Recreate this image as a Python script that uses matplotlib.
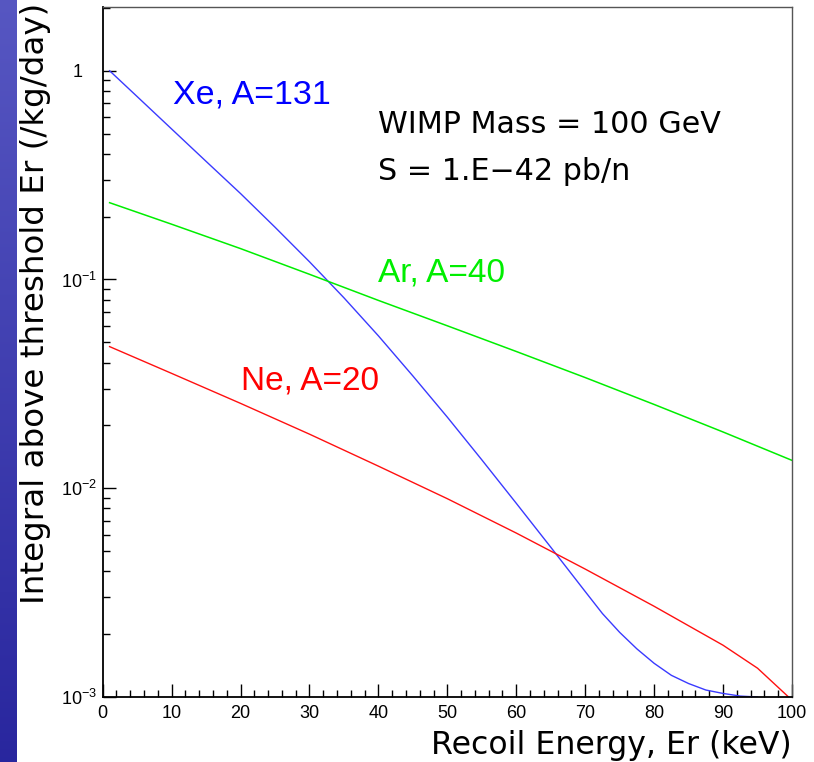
import numpy as np
import matplotlib.pyplot as plt
from matplotlib.ticker import MultipleLocator, LogLocator, NullFormatter
from matplotlib.transforms import ScaledTranslation

plt.rcParams['mathtext.fontset'] = 'custom'
plt.rcParams['mathtext.rm'] = 'Liberation Sans'
plt.rcParams['mathtext.it'] = 'Liberation Sans:italic'
plt.rcParams['mathtext.bf'] = 'Liberation Sans:bold'

# integrated WIMP rate above threshold, per target nucleus
energy_xe = [1, 5, 10, 15, 20, 25, 30, 35, 40, 45, 50, 55, 60, 65, 70,
             72.5, 75, 77.5, 80, 82.5, 85, 87.5, 90, 92.5, 95]
rate_xe = [1.0, 0.752, 0.526, 0.368, 0.258, 0.178, 0.1216, 0.0817, 0.0537,
           0.0345, 0.0219, 0.01368, 0.00847, 0.00522, 0.0032, 0.00251,
           0.00204, 0.0017, 0.00145, 0.00127, 0.00116, 0.00108, 0.00104,
           0.00101, 0.00100]

energy_ar = [1, 10, 20, 30, 40, 50, 60, 70, 80, 90, 100]
rate_ar = [0.2333, 0.184, 0.1406, 0.1059, 0.0794, 0.0600, 0.0452, 0.0339,
           0.0252, 0.0186, 0.0136]

energy_ne = [1, 10, 20, 30, 40, 50, 60, 70, 80, 90, 95, 99.5]
rate_ne = [0.0477, 0.0355, 0.0255, 0.01816, 0.01276, 0.00891, 0.0061,
           0.0041, 0.00272, 0.00177, 0.001374, 0.0010]

y_ticks = [1e-3, 1e-2, 1e-1, 1]
y_labels = [r'$10^{-3}$', r'$10^{-2}$', r'$10^{-1}$', '1']


def plotRates():

    fig = plt.figure(figsize=(8.14, 7.62), dpi=100)

    # slide background strip on the left edge
    strip = fig.add_axes([0, 0, 17 / 814, 1])
    grad = np.linspace(0, 1, 256).reshape(-1, 1)
    top = np.array([0.34, 0.34, 0.76])
    bot = np.array([0.16, 0.15, 0.62])
    img = top[None, None, :] * (1 - grad[:, :, None]) + bot[None, None, :] * grad[:, :, None]
    strip.imshow(img, aspect='auto', extent=[0, 1, 0, 1])
    strip.axis('off')

    ax = fig.add_axes([102.7 / 814, 65 / 762, 689.3 / 814, 690 / 762])
    ax.plot(energy_xe, rate_xe, color='#3a3aff', lw=1.0)
    ax.plot(energy_ar, rate_ar, color='#00ee00', lw=1.1)
    ax.plot(energy_ne, rate_ne, color='#ff1010', lw=1.0)

    ax.set_yscale('log')
    ax.set_xlim(0, 100)
    ax.set_ylim(1e-3, 2.02)

    ax.xaxis.set_major_locator(MultipleLocator(10))
    ax.xaxis.set_minor_locator(MultipleLocator(2))
    ax.set_yticks(y_ticks, y_labels)
    ax.yaxis.set_minor_locator(LogLocator(base=10, subs=np.arange(2, 10)))
    ax.yaxis.set_minor_formatter(NullFormatter())

    ax.tick_params(which='both', direction='in', top=False, right=False,
                   width=1.0, color='black', labelsize=13)
    ax.tick_params(which='major', length=9.5)
    ax.tick_params(which='minor', length=5)
    ax.tick_params(axis='x', pad=6)
    ax.tick_params(axis='y', pad=4)
    for lab in ax.get_xticklabels() + ax.get_yticklabels():
        lab.set_family('Liberation Sans')
    # the "1" label lines up with the "10" of the labels below it
    one = ax.yaxis.get_major_ticks()[-1].label1
    one.set_transform(one.get_transform()
                      + ScaledTranslation(-0.15, 0, fig.dpi_scale_trans))

    for side in ('left', 'bottom'):
        ax.spines[side].set_linewidth(1.3)
    for side in ('top', 'right'):
        ax.spines[side].set_linewidth(1.0)
        ax.spines[side].set_color('#555555')

    ax.set_xlabel('Recoil Energy, Er (keV)', fontsize=22.7,
                  family='DejaVu Sans', ha='right', va='center')
    ax.xaxis.set_label_coords(1.0, -0.0696)
    ax.set_ylabel('Integral above threshold Er (/kg/day)', fontsize=23.4,
                  family='DejaVu Sans', ha='center', va='center')
    ax.yaxis.set_label_coords(-0.098, 0.57)

    ax.text(10.2, 0.693, 'Xe, A=131', color='#0000ff', fontsize=24.5,
            family='Liberation Sans')
    ax.text(40.0, 0.0976, 'Ar, A=40', color='#00ee00', fontsize=24,
            family='Liberation Sans')
    ax.text(20.1, 0.0296, 'Ne, A=20', color='#ff0000', fontsize=24,
            family='Liberation Sans')
    ax.text(40.0, 0.503, 'WIMP Mass = 100 GeV', color='black',
            fontsize=21.7, family='DejaVu Sans')
    ax.text(40.0, 0.300, 'S = 1.E\u221242 pb/n', color='black',
            fontsize=21.7, family='DejaVu Sans')

    plt.savefig('out.png', dpi=100)
    return


def main():
    """Principal function"""

    plotRates()

    return


if __name__ == '__main__':

    main()
